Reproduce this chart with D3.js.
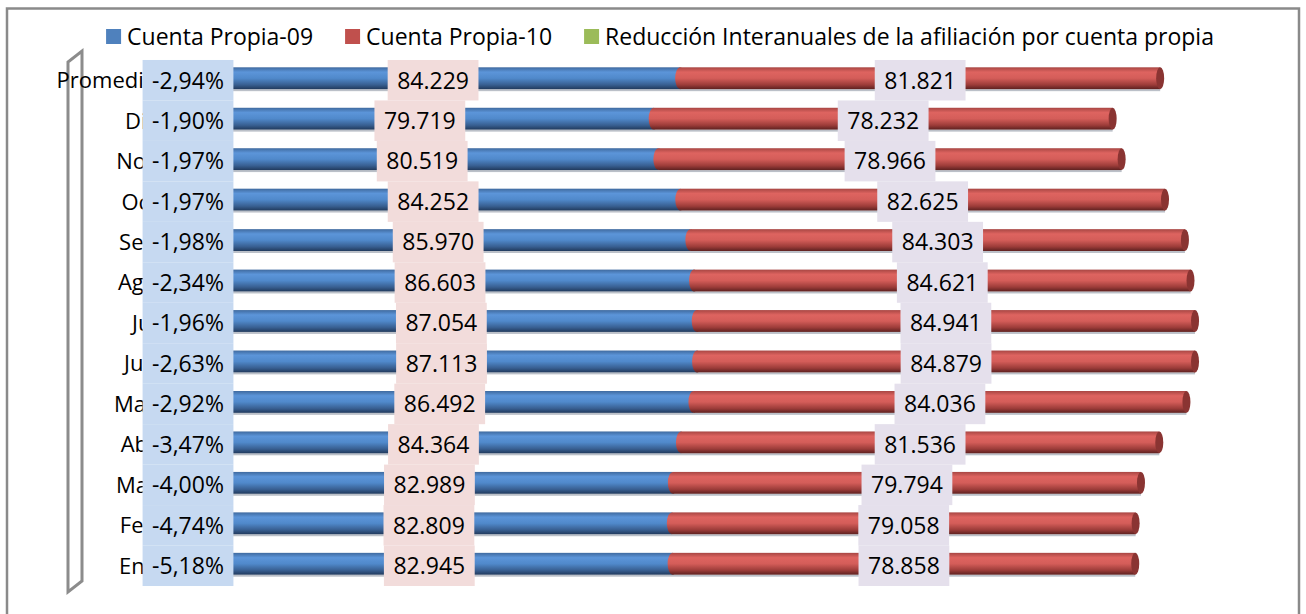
<!DOCTYPE html>
<html>
<head>
<meta charset="utf-8">
<script src="https://cdn.jsdelivr.net/npm/d3@7"></script>
<style>
  body { margin: 0; background: #fff; }
  svg text { font-family: "Open Sans", "Noto Sans", sans-serif; fill: #000; }
</style>
</head>
<body>
<div class="container"></div>
<script>
// data, top row first
var categories = ["Promedio", "Dic", "Nov", "Oct", "Sep", "Ago", "Jul", "Jun", "May", "Abr", "Mar", "Feb", "Ene"];
var cuentaPropia09 = [84229, 79719, 80519, 84252, 85970, 86603, 87054, 87113, 86492, 84364, 82989, 82809, 82945];
var cuentaPropia10 = [81821, 78232, 78966, 82625, 84303, 84621, 84941, 84879, 84036, 81536, 79794, 79058, 78858];
var reduccion = [-2.94, -1.90, -1.97, -1.97, -1.98, -2.34, -1.96, -2.63, -2.92, -3.47, -4.00, -4.74, -5.18];
var seriesNames = ["Cuenta Propia-09", "Cuenta Propia-10", "Reducción Interanuales de la afiliación por cuenta propia"];

var width = 1306, height = 614;
var svg = d3.select(".container").append("svg")
  .attr("width", width)
  .attr("height", height);

var fmtNum = d3.formatLocale({ decimal: ",", thousands: ".", grouping: [3] }).format(",d");
var fmtPct = function (v) { return v.toFixed(2).replace(".", ",") + "%"; };

// scales
var x = d3.scaleLinear().domain([0, 180000]).range([186, 1242]);
var y = d3.scaleBand().domain(categories).range([58, 584]).paddingInner(0.46).paddingOuter(0.23);

// outer frame
svg.append("rect")
  .attr("x", 7).attr("y", 8.5)
  .attr("width", 1292).attr("height", 640)
  .attr("fill", "none")
  .attr("stroke", "#8a8a8a")
  .attr("stroke-width", 2.5);

// gradients for the cylinder look
var defs = svg.append("defs");
function cyl(id, stops) {
  var g = defs.append("linearGradient").attr("id", id)
    .attr("x1", 0).attr("y1", 0).attr("x2", 0).attr("y2", 1);
  stops.forEach(function (s) {
    g.append("stop").attr("offset", s[0]).attr("stop-color", s[1]);
  });
}
cyl("gBlue", [[0, "#3f6a9f"], [0.22, "#5c95d9"], [0.5, "#5089cb"], [0.8, "#385f91"], [1, "#213a5d"]]);
cyl("gRed", [[0, "#a84643"], [0.22, "#de6460"], [0.5, "#d45d59"], [0.8, "#9c3c39"], [1, "#5e2120"]]);

// 3D axis wall on the left
svg.append("path")
  .attr("d", "M68,592 L68,62 L82,51 L82,581 Z")
  .attr("fill", "none")
  .attr("stroke", "#8c8c8c")
  .attr("stroke-width", 3);

// category labels (mostly hidden behind the % boxes, as in the original)
svg.append("g").selectAll("text")
  .data(categories)
  .join("text")
  .attr("x", 157)
  .attr("y", function (d) { return y(d) + y.bandwidth() / 2 + 2; })
  .attr("dy", "0.36em")
  .attr("text-anchor", "end")
  .style("font-size", "22px")
  .text(function (d) { return d; });

var bh = y.bandwidth();
var rows = categories.map(function (c, i) {
  return { cat: c, a: cuentaPropia09[i], b: cuentaPropia10[i], r: reduccion[i] };
});

// shadow under bars
svg.append("g").selectAll("rect")
  .data(rows)
  .join("rect")
  .attr("x", x(0))
  .attr("y", function (d) { return y(d.cat) + bh; })
  .attr("width", function (d) { return x(d.a + d.b) - x(0); })
  .attr("height", 2)
  .attr("fill", "#8e96a3")
  .attr("opacity", 0.6);

// blue series
svg.append("g").selectAll("rect")
  .data(rows)
  .join("rect")
  .attr("x", x(0))
  .attr("y", function (d) { return y(d.cat); })
  .attr("width", function (d) { return x(d.a) - x(0); })
  .attr("height", bh)
  .attr("fill", "url(#gBlue)");

// red series
var red = svg.append("g").selectAll("g")
  .data(rows)
  .join("g");
red.append("rect")
  .attr("x", function (d) { return x(d.a); })
  .attr("y", function (d) { return y(d.cat); })
  .attr("width", function (d) { return x(d.a + d.b) - x(d.a); })
  .attr("height", bh)
  .attr("fill", "url(#gRed)");
red.append("ellipse")
  .attr("cx", function (d) { return x(d.a); })
  .attr("cy", function (d) { return y(d.cat) + bh / 2; })
  .attr("rx", 5)
  .attr("ry", bh / 2)
  .attr("fill", "url(#gRed)");
red.append("ellipse")
  .attr("cx", function (d) { return x(d.a + d.b); })
  .attr("cy", function (d) { return y(d.cat) + bh / 2; })
  .attr("rx", 4)
  .attr("ry", bh / 2)
  .attr("fill", "#8a3432");

// data labels with coloured boxes
function labels(getX, getText, boxFill) {
  var g = svg.append("g").selectAll("g")
    .data(rows)
    .join("g");
  var t = g.append("text")
    .attr("x", getX)
    .attr("y", function (d) { return y(d.cat) + bh / 2 + 2; })
    .attr("dy", "0.36em")
    .attr("text-anchor", "middle")
    .style("font-size", "23px")
    .text(getText);
  t.each(function (d) {
    var w = this.getComputedTextLength() + 19;
    var cx = getX(d), cy = y(d.cat) + bh / 2 + 2;
    d3.select(this.parentNode).insert("rect", "text")
      .attr("x", cx - w / 2)
      .attr("y", cy - 20.25)
      .attr("width", w)
      .attr("height", 40.5)
      .attr("fill", boxFill);
  });
}
labels(function (d) { return x(0) + 2; }, function (d) { return fmtPct(d.r); }, "#c6d9f1");
labels(function (d) { return x(d.a / 2); }, function (d) { return fmtNum(d.a); }, "#f2dcdb");
labels(function (d) { return x(d.a + d.b / 2); }, function (d) { return fmtNum(d.b); }, "#e5e0ec");

// legend
var legColors = ["#4f81bd", "#c0504d", "#9bbb59"];
var leg = svg.append("g");
var lx = 0;
seriesNames.forEach(function (name, i) {
  var item = leg.append("g").attr("transform", "translate(" + lx + ",0)");
  item.append("rect")
    .attr("x", 0).attr("y", 29)
    .attr("width", 15).attr("height", 15)
    .attr("fill", legColors[i]);
  var t = item.append("text")
    .attr("x", 21).attr("y", 37)
    .attr("dy", "0.36em")
    .style("font-size", "23px")
    .text(name);
  lx += 21 + t.node().getComputedTextLength() + 32;
});
var legW = lx - 32;
leg.attr("transform", "translate(" + (660 - legW / 2) + ",0)");
</script>
</body>
</html>
